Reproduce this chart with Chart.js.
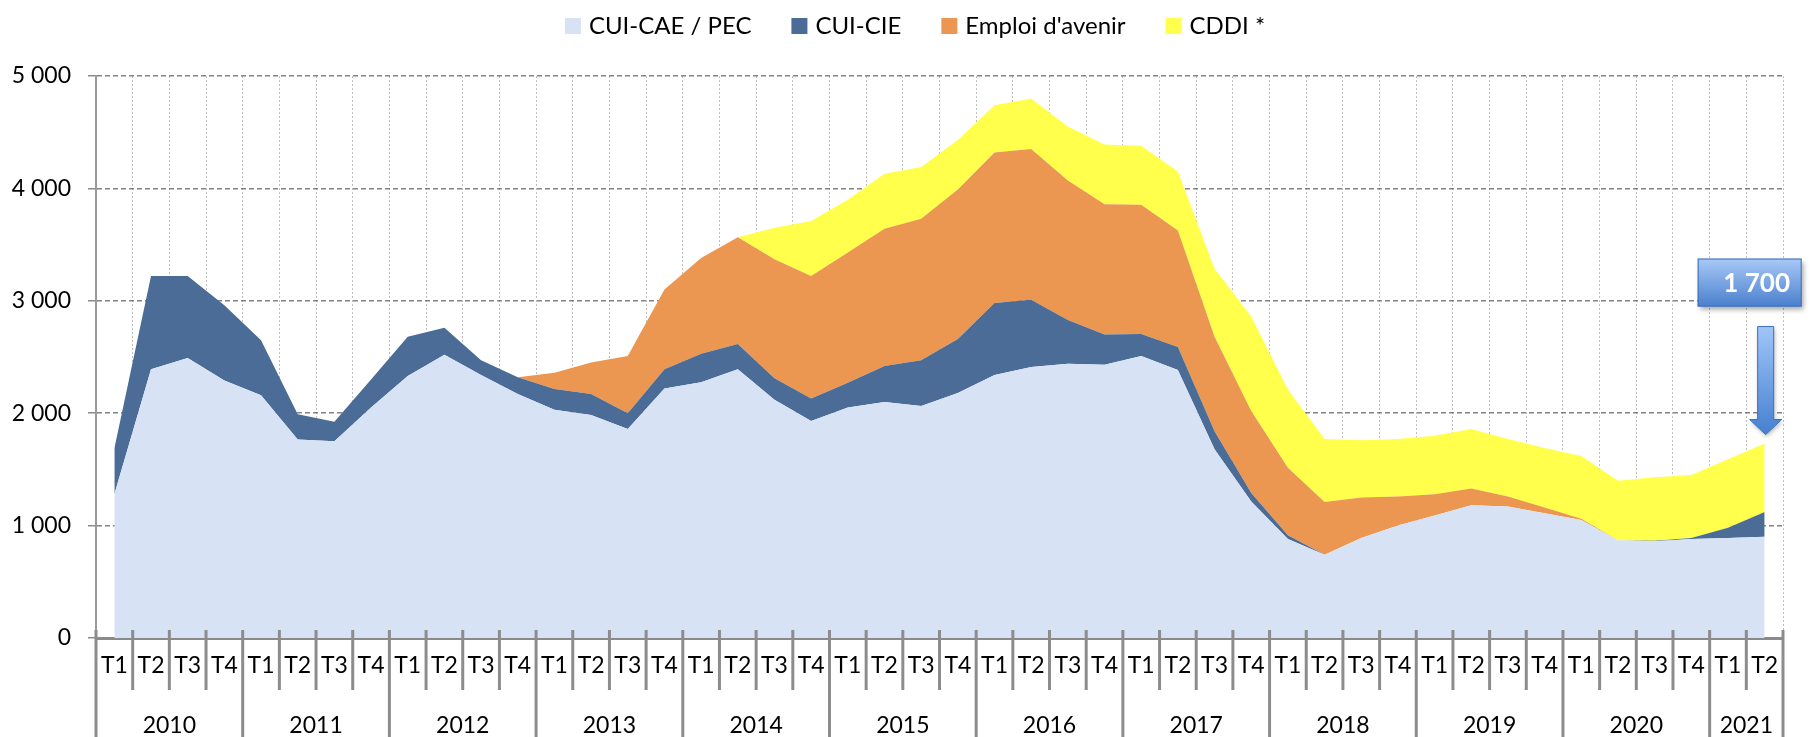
<!DOCTYPE html>
<html>
<head>
<meta charset="utf-8">
<script src="https://cdn.jsdelivr.net/npm/chart.js@4.4.0/dist/chart.umd.min.js"></script>
<style>
  html, body { margin: 0; padding: 0; background: #fff; }
</style>
</head>
<body>
<canvas id="chart" width="1811" height="737"></canvas>
<script>
// categories
const years = ['2010', '2011', '2012', '2013', '2014', '2015', '2016', '2017', '2018', '2019', '2020', '2021'];
const quartersPerYear = [4, 4, 4, 4, 4, 4, 4, 4, 4, 4, 4, 2];

// series values (one per quarter 2010 T1 -> 2021 T2)
const cuiCae = [1280, 2390, 2490, 2290, 2160, 1765, 1750, 2050, 2330, 2520, 2340, 2170,
  2030, 1985, 1860, 2220, 2275, 2390, 2120, 1930, 2050, 2100, 2065, 2180,
  2340, 2410, 2440, 2430, 2510, 2385, 1680, 1215, 880, 740, 890, 1000,
  1090, 1180, 1170, 1110, 1050, 870, 860, 880, 890, 900];
const cuiCie = [405, 830, 730, 670, 490, 225, 175, 250, 350, 240, 130, 150,
  185, 185, 140, 170, 255, 225, 190, 200, 220, 320, 405, 480,
  640, 600, 390, 270, 195, 205, 160, 75, 35, 0, 0, 0,
  0, 0, 0, 0, 0, 0, 5, 10, 90, 220];
const emploiAvenir = [0, 0, 0, 0, 0, 0, 0, 0, 0, 0, 0, 0,
  145, 280, 510, 710, 850, 950, 1060, 1090, 1160, 1220, 1260, 1330,
  1340, 1340, 1240, 1160, 1150, 1035, 840, 730, 600, 470, 360, 260,
  190, 150, 90, 50, 10, 0, 0, 0, 0, 0];
const cddi = [0, 0, 0, 0, 0, 0, 0, 0, 0, 0, 0, 0,
  0, 0, 0, 0, 0, 0, 280, 490, 470, 490, 460, 440,
  420, 450, 480, 530, 525, 525, 605, 840, 695, 560, 510, 510,
  520, 530, 510, 530, 560, 530, 565, 560, 610, 610];

const calloutText = '1 700';

const quarterLabels = [];
quartersPerYear.forEach(n => {
  for (let q = 1; q <= n; q++) quarterLabels.push('T' + q);
});

const FONT = 'Lato';

function fmt(v) {
  return String(v).replace(/\B(?=(\d{3})+(?!\d))/g, ' ');
}

// draws what Excel puts under the axis: separators + year row, the legend and the callout
const decorPlugin = {
  id: 'decor',
  afterDraw(chart) {
    const ctx = chart.ctx;
    const xs = chart.scales.x;
    const area = chart.chartArea;
    const axisY = area.bottom;

    // separators
    const yearBounds = [0];
    quartersPerYear.forEach(n => yearBounds.push(yearBounds[yearBounds.length - 1] + n));
    ctx.save();
    ctx.strokeStyle = '#8c8c8c';
    ctx.lineWidth = 3;
    for (let k = 0; k <= quarterLabels.length; k++) {
      const x = xs.getPixelForValue(k - 0.5);
      const isYear = yearBounds.includes(k);
      ctx.beginPath();
      ctx.moveTo(x, axisY - 8);
      ctx.lineTo(x, isYear ? chart.height : axisY + 52);
      ctx.stroke();
    }

    // year row
    ctx.fillStyle = '#000';
    ctx.font = '23px ' + FONT;
    ctx.textAlign = 'center';
    ctx.textBaseline = 'alphabetic';
    years.forEach((y, i) => {
      const x0 = xs.getPixelForValue(yearBounds[i] - 0.5);
      const x1 = xs.getPixelForValue(yearBounds[i + 1] - 0.5);
      ctx.fillText(y, (x0 + x1) / 2, 733);
    });

    // legend
    const box = 16, gap = 8, itemGap = 40;
    ctx.font = '24px ' + FONT;
    const items = chart.data.datasets.map(ds => ({
      text: ds.label, color: ds.backgroundColor, w: ctx.measureText(ds.label).width
    }));
    const total = items.reduce((s, it) => s + box + gap + it.w, 0) + itemGap * (items.length - 1);
    let lx = 915 - total / 2;
    const ly = 26;
    ctx.textAlign = 'left';
    ctx.textBaseline = 'middle';
    items.forEach(it => {
      ctx.fillStyle = it.color;
      ctx.fillRect(lx, ly - box / 2, box, box);
      ctx.fillStyle = '#000';
      ctx.fillText(it.text, lx + box + gap, ly);
      lx += box + gap + it.w + itemGap;
    });
    ctx.restore();

    // callout on the last point of the top series
    const last = chart.getDatasetMeta(3).data[quarterLabels.length - 1];
    const px = last.x, py = last.y;

    ctx.save();
    const bx = px - 67, bw = 104, by = py - 185, bh = 48;
    let g = ctx.createLinearGradient(0, by, 0, by + bh);
    g.addColorStop(0, '#a9c9f7');
    g.addColorStop(1, '#4a80cd');
    ctx.shadowColor = 'rgba(0,0,0,0.35)';
    ctx.shadowBlur = 5;
    ctx.shadowOffsetX = 2;
    ctx.shadowOffsetY = 3;
    ctx.fillStyle = g;
    ctx.fillRect(bx, by, bw, bh);
    ctx.shadowColor = 'transparent';
    ctx.strokeStyle = '#3f70b8';
    ctx.lineWidth = 1;
    ctx.strokeRect(bx + 0.5, by + 0.5, bw - 1, bh - 1);
    ctx.fillStyle = '#fff';
    ctx.font = 'bold 26px ' + FONT;
    ctx.textAlign = 'center';
    ctx.textBaseline = 'middle';
    ctx.fillText(calloutText, px - 8, by + bh / 2 + 1);

    // arrow
    const sx0 = px - 7, sx1 = px + 9, sTop = py - 117, hTop = py - 24, tip = py - 9;
    g = ctx.createLinearGradient(0, sTop, 0, tip);
    g.addColorStop(0, '#a0c5f8');
    g.addColorStop(1, '#4580d0');
    ctx.beginPath();
    ctx.moveTo(sx0, sTop);
    ctx.lineTo(sx1, sTop);
    ctx.lineTo(sx1, hTop);
    ctx.lineTo(px + 17, hTop);
    ctx.lineTo(px + 1, tip);
    ctx.lineTo(px - 15, hTop);
    ctx.lineTo(sx0, hTop);
    ctx.closePath();
    ctx.shadowColor = 'rgba(0,0,0,0.3)';
    ctx.shadowBlur = 4;
    ctx.shadowOffsetX = 1;
    ctx.shadowOffsetY = 2;
    ctx.fillStyle = g;
    ctx.fill();
    ctx.shadowColor = 'transparent';
    ctx.strokeStyle = '#3f70b8';
    ctx.stroke();
    ctx.restore();
  }
};

function draw() {
  Chart.defaults.font.family = FONT;
  Chart.defaults.color = '#000';

  new Chart(document.getElementById('chart'), {
    type: 'line',
    data: {
      labels: quarterLabels,
      datasets: [
        { label: 'CUI-CAE / PEC', data: cuiCae, backgroundColor: '#D7E3F4', fill: 'origin' },
        { label: 'CUI-CIE', data: cuiCie, backgroundColor: '#4A6C97', fill: '-1' },
        { label: "Emploi d'avenir", data: emploiAvenir, backgroundColor: '#EB9751', fill: '-1' },
        { label: 'CDDI *', data: cddi, backgroundColor: '#FFFF4C', fill: '-1' }
      ]
    },
    options: {
      responsive: false,
      animation: false,
      devicePixelRatio: 1,
      layout: { padding: { top: 76, right: 28, bottom: 0, left: 0 } },
      elements: {
        line: { borderWidth: 0, tension: 0 },
        point: { radius: 0, hoverRadius: 0 }
      },
      plugins: {
        legend: { display: false },
        tooltip: { enabled: false }
      },
      scales: {
        x: {
          z: 1,
          offset: true,
          grid: { offset: true, color: 'rgba(110,110,110,0.45)', lineWidth: 1, drawTicks: false },
          border: { color: '#8a8a8a', width: 3, dash: [2, 2] },
          ticks: { font: { size: 23 }, color: '#000', padding: 14, maxRotation: 0, autoSkip: false },
          afterFit(scale) { scale.height = 99; }
        },
        y: {
          z: 1,
          stacked: true,
          min: 0,
          max: 5000,
          grid: {
            color: 'rgba(80,80,80,0.7)', lineWidth: 1.5,
            tickLength: 8, tickColor: '#8c8c8c', tickWidth: 1.5, tickBorderDash: []
          },
          border: { color: '#9a9a9a', width: 2, dash: [5, 3] },
          ticks: {
            stepSize: 1000, font: { size: 23 }, color: '#000', padding: 17,
            callback: v => fmt(v)
          },
          afterFit(scale) { scale.width = 96; }
        }
      }
    },
    plugins: [decorPlugin]
  });
}

document.fonts.load('24px ' + FONT).then(draw, draw);
</script>
</body>
</html>
